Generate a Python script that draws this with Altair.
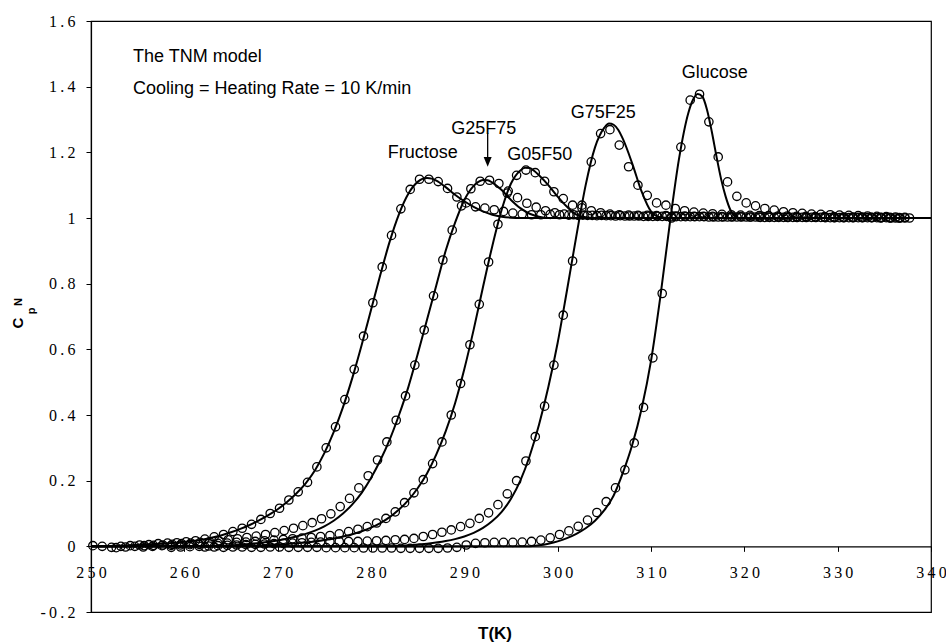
import altair as alt
import pandas as pd

# ---------------- measured data (open circles) ----------------
FRU_T = [250.2, 251.2, 252.2, 253.2, 254.2, 255.2, 256.2, 257.2, 258.2, 259.2,
         260.2, 261.2, 262.2, 263.2, 264.2, 265.2, 266.2, 267.2, 268.2, 269.2,
         270.2, 271.2, 272.2, 273.2, 274.2, 275.2, 276.2, 277.2, 278.2, 279.2,
         280.2, 281.2, 282.2, 283.2, 284.2, 285.2, 286.2, 287.2, 288.2, 289.2,
         290.2, 291.2, 292.2, 293.2, 294.2, 295.2, 296.2, 297.2, 298.2, 299.2,
         300.2, 301.2, 302.2, 303.2, 304.2, 305.2, 306.2, 307.2, 308.2, 309.2,
         310.2, 311.2, 312.2, 313.2, 314.2, 315.2, 316.2, 317.2, 318.2, 319.2,
         320.2, 321.2, 322.2, 323.2, 324.2, 325.2, 326.2, 327.2, 328.2, 329.2,
         330.2, 331.2, 332.2, 333.2, 334.2, 335.2, 336.2, 337.2]
FRU_CP = [0.002, 0.000, -0.003, 0.000, 0.002, 0.004, 0.005, 0.008, 0.010, 0.011,
          0.014, 0.017, 0.022, 0.029, 0.036, 0.045, 0.055, 0.067, 0.082, 0.100,
          0.116, 0.141, 0.166, 0.195, 0.242, 0.300, 0.364, 0.447, 0.539, 0.640,
          0.742, 0.851, 0.947, 1.028, 1.087, 1.118, 1.118, 1.111, 1.090, 1.064,
          1.046, 1.034, 1.030, 1.025, 1.020, 1.015, 1.012, 1.010, 1.010, 1.011,
          1.010, 1.009, 1.008, 1.008, 1.007, 1.007, 1.006, 1.006, 1.006, 1.005,
          1.005, 1.005, 1.004, 1.004, 1.004, 1.004, 1.003, 1.003, 1.003, 1.003,
          1.003, 1.003, 1.002, 1.002, 1.002, 1.002, 1.002, 1.002, 1.002, 1.001,
          1.001, 1.001, 1.001, 1.001, 1.001, 1.001, 1.000, 1.000]

G25_T = [252.7, 253.7, 254.7, 255.7, 256.7, 257.7, 258.7, 259.7, 260.7, 261.7,
         262.7, 263.7, 264.7, 265.7, 266.7, 267.7, 268.7, 269.7, 270.7, 271.7,
         272.7, 273.7, 274.7, 275.7, 276.7, 277.7, 278.7, 279.7, 280.7, 281.7,
         282.7, 283.7, 284.7, 285.7, 286.7, 287.7, 288.7, 289.7, 290.7, 291.7,
         292.7, 293.7, 294.7, 295.7, 296.7, 297.7, 298.7, 299.7, 300.7, 301.7,
         302.7, 303.7, 304.7, 305.7, 306.7, 307.7, 308.7, 309.7, 310.7, 311.7,
         312.7, 313.7, 314.7, 315.7, 316.7, 317.7, 318.7, 319.7, 320.7, 321.7,
         322.7, 323.7, 324.7, 325.7, 326.7, 327.7, 328.7, 329.7, 330.7, 331.7,
         332.7, 333.7, 334.7, 335.7, 336.7, 337.7]
G25_CP = [-0.004, -0.002, 0.000, 0.002, 0.003, 0.004, 0.006, 0.008, 0.010, 0.012,
          0.014, 0.017, 0.020, 0.023, 0.027, 0.031, 0.036, 0.042, 0.048, 0.055,
          0.063, 0.072, 0.084, 0.099, 0.121, 0.146, 0.178, 0.215, 0.263, 0.318,
          0.384, 0.458, 0.552, 0.659, 0.763, 0.872, 0.963, 1.037, 1.089, 1.112,
          1.115, 1.105, 1.082, 1.062, 1.045, 1.033, 1.022, 1.016, 1.012, 1.010,
          1.009, 1.008, 1.008, 1.007, 1.007, 1.006, 1.006, 1.005, 1.005, 1.005,
          1.004, 1.004, 1.004, 1.004, 1.003, 1.003, 1.003, 1.003, 1.003, 1.002,
          1.002, 1.002, 1.002, 1.002, 1.002, 1.002, 1.001, 1.001, 1.001, 1.001,
          1.001, 1.001, 1.001, 1.000, 1.000, 1.000]

G05_T = [255.6, 256.6, 257.6, 258.6, 259.6, 260.6, 261.6, 262.6, 263.6, 264.6,
         265.6, 266.6, 267.6, 268.6, 269.6, 270.6, 271.6, 272.6, 273.6, 274.6,
         275.6, 276.6, 277.6, 278.6, 279.6, 280.6, 281.6, 282.6, 283.6, 284.6,
         285.6, 286.6, 287.6, 288.6, 289.6, 290.6, 291.6, 292.6, 293.6, 294.6,
         295.6, 296.6, 297.6, 298.6, 299.6, 300.6, 301.6, 302.6, 303.6, 304.6,
         305.6, 306.6, 307.6, 308.6, 309.6, 310.6, 311.6, 312.6, 313.6, 314.6,
         315.6, 316.6, 317.6, 318.6, 319.6, 320.6, 321.6, 322.6, 323.6, 324.6,
         325.6, 326.6, 327.6, 328.6, 329.6, 330.6, 331.6, 332.6, 333.6, 334.6,
         335.6, 336.6]
G05_CP = [-0.002, 0.000, 0.002, 0.003, 0.004, 0.005, 0.006, 0.008, 0.009, 0.010,
          0.012, 0.013, 0.015, 0.017, 0.019, 0.021, 0.023, 0.025, 0.027, 0.030,
          0.033, 0.038, 0.045, 0.052, 0.060, 0.071, 0.085, 0.105, 0.133, 0.163,
          0.203, 0.252, 0.318, 0.400, 0.496, 0.614, 0.737, 0.866, 0.981, 1.076,
          1.130, 1.146, 1.138, 1.112, 1.080, 1.059, 1.039, 1.031, 1.022, 1.016,
          1.012, 1.010, 1.009, 1.008, 1.008, 1.007, 1.007, 1.006, 1.006, 1.005,
          1.005, 1.005, 1.004, 1.004, 1.004, 1.003, 1.003, 1.003, 1.003, 1.002,
          1.002, 1.002, 1.002, 1.002, 1.001, 1.001, 1.001, 1.001, 1.001, 1.000,
          1.000, 1.000]

G75_T = [258.6, 259.6, 260.6, 261.6, 262.6, 263.6, 264.6, 265.6, 266.6, 267.6,
         268.6, 269.6, 270.6, 271.6, 272.6, 273.6, 274.6, 275.6, 276.6, 277.6,
         278.6, 279.6, 280.6, 281.6, 282.6, 283.6, 284.6, 285.6, 286.6, 287.6,
         288.6, 289.6, 290.6, 291.6, 292.6, 293.6, 294.6, 295.6, 296.6, 297.6,
         298.6, 299.6, 300.6, 301.6, 302.6, 303.6, 304.6, 305.6, 306.6, 307.6,
         308.6, 309.6, 310.6, 311.6, 312.6, 313.6, 314.6, 315.6, 316.6, 317.6,
         318.6, 319.6, 320.6, 321.6, 322.6, 323.6, 324.6, 325.6, 326.6, 327.6,
         328.6, 329.6, 330.6, 331.6, 332.6, 333.6, 334.6, 335.6, 336.6]
G75_CP = [-0.003, -0.002, -0.001, 0.000, 0.001, 0.002, 0.003, 0.004, 0.005, 0.006,
          0.007, 0.008, 0.009, 0.010, 0.011, 0.012, 0.013, 0.014, 0.015, 0.015,
          0.015, 0.016, 0.017, 0.018, 0.020, 0.021, 0.024, 0.030, 0.036, 0.043,
          0.050, 0.060, 0.070, 0.085, 0.102, 0.127, 0.160, 0.200, 0.260, 0.334,
          0.427, 0.552, 0.704, 0.869, 1.039, 1.171, 1.257, 1.269, 1.222, 1.156,
          1.100, 1.069, 1.046, 1.039, 1.029, 1.022, 1.018, 1.015, 1.013, 1.011,
          1.010, 1.009, 1.008, 1.007, 1.007, 1.006, 1.006, 1.005, 1.005, 1.004,
          1.004, 1.004, 1.003, 1.003, 1.003, 1.002, 1.002, 1.002, 1.001]

GLU_T = [262.2, 263.2, 264.2, 265.2, 266.2, 267.2, 268.2, 269.2, 270.2, 271.2,
         272.2, 273.2, 274.2, 275.2, 276.2, 277.2, 278.2, 279.2, 280.2, 281.2,
         282.2, 283.2, 284.2, 285.2, 286.2, 287.2, 288.2, 289.2, 290.2, 291.2,
         292.2, 293.2, 294.2, 295.2, 296.2, 297.2, 298.2, 299.2, 300.2, 301.2,
         302.2, 303.2, 304.2, 305.2, 306.2, 307.2, 308.2, 309.2, 310.2, 311.2,
         312.2, 313.2, 314.2, 315.2, 316.2, 317.2, 318.2, 319.2, 320.2, 321.2,
         322.2, 323.2, 324.2, 325.2, 326.2, 327.2, 328.2, 329.2, 330.2, 331.2,
         332.2, 333.2, 334.2, 335.2, 336.2, 337.2]
GLU_CP = [-0.002, -0.002, -0.003, -0.002, -0.002, -0.003, -0.003, -0.002, -0.002, -0.003,
          -0.003, -0.003, -0.003, -0.004, -0.004, -0.004, -0.004, -0.005, -0.005, -0.005,
          -0.005, -0.006, -0.006, -0.006, -0.006, -0.006, -0.005, -0.003, 0.004, 0.009,
          0.011, 0.012, 0.012, 0.012, 0.013, 0.015, 0.019, 0.026, 0.036, 0.047,
          0.061, 0.080, 0.103, 0.136, 0.178, 0.233, 0.315, 0.423, 0.574, 0.770,
          1.000, 1.216, 1.359, 1.377, 1.293, 1.186, 1.110, 1.066, 1.046, 1.037,
          1.029, 1.024, 1.019, 1.016, 1.014, 1.012, 1.011, 1.010, 1.009, 1.008,
          1.007, 1.006, 1.005, 1.004, 1.003, 1.002]

# ---------------- TNM model curves (solid lines) ----------------
FRU_LT = [250, 252, 254, 256, 258, 260, 262, 263, 264, 265, 266, 267, 268, 269, 270,
          271, 272, 273, 274, 275, 276, 277, 278, 279, 280, 281, 282, 283, 284, 285,
          285.5, 286, 286.5, 287, 288, 289, 290, 291, 292, 293, 294, 295, 296, 340]
FRU_LC = [0.0, 0.001, 0.003, 0.006, 0.009, 0.014, 0.021, 0.027, 0.034, 0.043, 0.053, 0.065,
          0.079, 0.095, 0.113, 0.135, 0.161, 0.192, 0.232, 0.284, 0.348, 0.424, 0.513, 0.613,
          0.720, 0.827, 0.928, 1.012, 1.074, 1.110, 1.119, 1.122, 1.120, 1.114, 1.094, 1.071,
          1.051, 1.034, 1.020, 1.010, 1.004, 1.001, 1.000, 1.000]

G25_LT = [250, 262, 264, 266, 268, 270, 272, 273, 274, 275, 276, 277, 278, 279, 280, 281,
          282, 283, 284, 285, 286, 287, 288, 289, 290, 291, 291.5, 292, 292.5, 293, 294,
          295, 296, 297, 298, 299, 340]
G25_LC = [0.0, 0.0, 0.002, 0.005, 0.010, 0.018, 0.030, 0.038, 0.048, 0.061, 0.078, 0.100,
          0.128, 0.163, 0.208, 0.262, 0.325, 0.400, 0.485, 0.585, 0.690, 0.795, 0.900, 0.985,
          1.055, 1.098, 1.110, 1.116, 1.115, 1.108, 1.085, 1.055, 1.030, 1.013, 1.004, 1.000,
          1.000]

G05_LT = [250, 266, 268, 270, 272, 274, 276, 278, 279, 280, 281, 282, 283, 284, 285, 286,
          287, 288, 289, 290, 291, 292, 293, 294, 295, 296, 296.5, 297, 297.5, 298, 299,
          300, 301, 302, 303, 304, 340]
G05_LC = [0.0, 0.0, 0.002, 0.005, 0.009, 0.015, 0.024, 0.037, 0.046, 0.057, 0.071, 0.089,
          0.112, 0.141, 0.177, 0.222, 0.280, 0.350, 0.435, 0.540, 0.660, 0.790, 0.915, 1.025,
          1.105, 1.145, 1.153, 1.152, 1.143, 1.130, 1.100, 1.065, 1.034, 1.010, 1.002, 1.000,
          1.000]

G75_LT = [250, 282, 284, 286, 288, 289, 290, 291, 292, 293, 294, 295, 296, 297, 298, 299,
          300, 301, 302, 303, 304, 305, 305.5, 306, 306.5, 307, 308, 309, 310, 311, 312, 340]
G75_LC = [0.0, 0.0, 0.003, 0.008, 0.016, 0.022, 0.030, 0.041, 0.056, 0.077, 0.105, 0.145,
          0.200, 0.275, 0.370, 0.485, 0.620, 0.780, 0.945, 1.100, 1.215, 1.275, 1.288, 1.284,
          1.268, 1.240, 1.165, 1.080, 1.020, 1.002, 1.000, 1.000]

GLU_LT = [250, 297, 298, 299, 300, 301, 302, 303, 304, 305, 306, 307, 308, 309, 310, 311,
          312, 313, 314, 314.5, 315, 315.5, 316, 316.5, 317, 317.5, 318, 318.5, 319, 319.5, 340]
GLU_LC = [0.0, 0.0, 0.003, 0.008, 0.015, 0.025, 0.038, 0.055, 0.078, 0.110, 0.155, 0.225,
          0.310, 0.420, 0.565, 0.760, 0.980, 1.180, 1.320, 1.360, 1.378, 1.370, 1.330, 1.265,
          1.190, 1.120, 1.065, 1.025, 1.005, 1.000, 1.000]

SERIES = ["Fructose", "G25F75", "G05F50", "G75F25", "Glucose"]
POINT_SETS = [(FRU_T, FRU_CP), (G25_T, G25_CP), (G05_T, G05_CP), (G75_T, G75_CP), (GLU_T, GLU_CP)]
LINE_SETS = [(FRU_LT, FRU_LC), (G25_LT, G25_LC), (G05_LT, G05_LC), (G75_LT, G75_LC), (GLU_LT, GLU_LC)]

# ---------------- annotations (data coordinates) ----------------
NOTE_TEXT = ["The TNM model", "Cooling = Heating Rate = 10 K/min",
             "Fructose", "G25F75", "G05F50", "G75F25", "Glucose"]
NOTE_T = [254.5, 254.5, 281.8, 288.6, 294.6, 301.4, 313.3]
NOTE_CP = [1.474, 1.377, 1.184, 1.255, 1.178, 1.304, 1.426]

ARROW_T = [292.5]
ARROW_TOP = [1.258]
ARROW_BOT = [1.18]
ARROW_HEAD = [1.171]

X_TICKS = [250, 260, 270, 280, 290, 300, 310, 320, 330, 340]
Y_TICKS = [-0.2, 0, 0.2, 0.4, 0.6, 0.8, 1, 1.2, 1.4, 1.6]

pts = pd.concat([pd.DataFrame({"T": t, "Cp": c, "series": s})
                 for s, (t, c) in zip(SERIES, POINT_SETS)], ignore_index=True)
lines = pd.concat([pd.DataFrame({"T": t, "Cp": c, "series": s})
                   for s, (t, c) in zip(SERIES, LINE_SETS)], ignore_index=True)
notes = pd.DataFrame({"T": NOTE_T, "Cp": NOTE_CP, "label": NOTE_TEXT})
arrow = pd.DataFrame({"T": ARROW_T, "Cp": ARROW_TOP, "Cp2": ARROW_BOT, "head": ARROW_HEAD})

spaced = "replace(replace(format(datum.value, '~g'), '\u2212', '-'), regexp('(.)(?!$)', 'g'), '$1\u2009')"

xscale = alt.Scale(domain=[250, 340], nice=False, zero=False)
yscale = alt.Scale(domain=[-0.2, 1.6], nice=False, zero=False)
xaxis = alt.Axis(values=X_TICKS, offset=-65.67, labelFlush=False, labelOverlap=False,
                 labelPadding=13, labelExpr=spaced, title="", grid=False)
yaxis = alt.Axis(values=Y_TICKS, labelFlush=False, labelOverlap=False,
                 labelPadding=11, labelExpr=spaced, title="", grid=False)

X = alt.X("T:Q", scale=xscale, axis=xaxis)
Y = alt.Y("Cp:Q", scale=yscale, axis=yaxis)

line_layer = alt.Chart(lines).mark_line(color="black", strokeWidth=2, interpolate="monotone").encode(
    x=X, y=Y, detail="series:N")

pt_layer = alt.Chart(pts).mark_point(shape="circle", filled=False, color="black",
                                      strokeWidth=1.3, size=70, opacity=1).encode(x=X, y=Y)

note_layer = alt.Chart(notes).mark_text(align="left", baseline="alphabetic", font="Liberation Sans",
                                         fontSize=18, color="black").encode(x=X, y=Y, text="label:N")

arrow_rule = alt.Chart(arrow).mark_rule(color="black", strokeWidth=1.3).encode(
    x=X, y=Y, y2="Cp2:Q")
arrow_head = alt.Chart(arrow).mark_point(shape="M-0.5,-0.6L0.5,-0.6L0,0.6Z", filled=True,
                                          color="black", size=256, opacity=1).encode(
    x=X, y=alt.Y("head:Q", scale=yscale, axis=yaxis))

# axis titles
xtitle = alt.Chart(pd.DataFrame({"t": ["T(K)"]})).mark_text(
    font="Liberation Sans", fontWeight="bold", fontSize=17, align="center", baseline="middle",
    color="black").encode(x=alt.value(404), y=alt.value(613), text="t:N")
ytitle_c = alt.Chart(pd.DataFrame({"t": ["C"]})).mark_text(
    font="Liberation Sans", fontWeight="bold", fontSize=15, align="center", baseline="middle",
    angle=270, color="black").encode(x=alt.value(-73), y=alt.value(302), text="t:N")
ytitle_p = alt.Chart(pd.DataFrame({"t": ["p"]})).mark_text(
    font="Liberation Sans", fontWeight="bold", fontSize=11, align="center", baseline="middle",
    angle=270, color="black").encode(x=alt.value(-59), y=alt.value(290), text="t:N")
ytitle_n = alt.Chart(pd.DataFrame({"t": ["N"]})).mark_text(
    font="Liberation Sans", fontWeight="bold", fontSize=11, align="center", baseline="middle",
    angle=270, color="black").encode(x=alt.value(-72), y=alt.value(281), text="t:N")

chart = alt.layer(line_layer, pt_layer, note_layer, arrow_rule, arrow_head,
                  xtitle, ytitle_c, ytitle_p, ytitle_n).properties(
    width=840, height=591,
    autosize=alt.AutoSizeParams(type="none"),
    padding={"left": 91, "top": 21, "right": 15, "bottom": 31},
    background="white",
).configure_view(stroke="black", strokeWidth=1.2).configure_axis(
    labelFont="Liberation Serif", labelFontSize=16, labelColor="black",
    tickColor="black", domainColor="black", tickSize=5, tickWidth=1, domainWidth=1.2,
)

chart.save("out.html", embed_options={"renderer": "svg", "actions": False})
